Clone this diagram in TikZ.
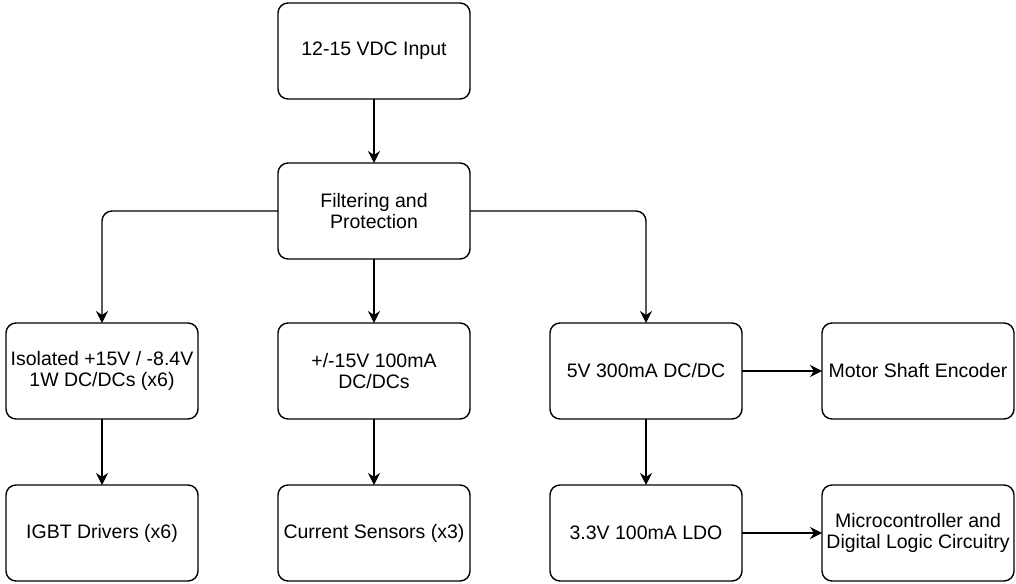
\documentclass[tikz,border=0pt]{standalone}
\usepackage{fontspec}
\setmainfont{Liberation Sans}
\usetikzlibrary{arrows.meta}
\begin{document}
\begin{tikzpicture}[x=1pt,y=-1pt,
  blk/.style={draw=black, line width=1.4pt, rounded corners=10pt, minimum width=192pt, minimum height=96pt, align=center, font=\fontsize{19.5}{21}\selectfont, inner sep=1pt, outer sep=0pt},
  conn/.style={draw=black, line width=1.4pt, -{Stealth[length=12pt,width=12pt,inset=4pt]}, rounded corners=10pt}]
\useasboundingbox (0,0) rectangle (1016,583);
\node[blk] (in) at (374,51) {12-15 VDC Input};
\node[blk] (filt) at (374,211) {Filtering and\\Protection};
\node[blk] (iso) at (102,371) {Isolated +15V / -8.4V\\1W DC/DCs (x6)};
\node[blk] (pm) at (374,371) {+/-15V 100mA\\DC/DCs};
\node[blk] (v5) at (646,371) {5V 300mA DC/DC};
\node[blk] (enc) at (918,371) {Motor Shaft Encoder};
\node[blk] (igbt) at (102,533) {IGBT Drivers (x6)};
\node[blk] (cs) at (374,533) {Current Sensors (x3)};
\node[blk] (ldo) at (646,533) {3.3V 100mA LDO};
\node[blk] (mcu) at (918,533) {Microcontroller and\\Digital Logic Circuitry};
\draw[conn] (in) -- (filt);
\draw[conn] (filt.west) -| (iso.north);
\draw[conn] (filt) -- (pm);
\draw[conn] (filt.east) -| (v5.north);
\draw[conn] (iso) -- (igbt);
\draw[conn] (pm) -- (cs);
\draw[conn] (v5) -- (ldo);
\draw[conn] (v5) -- (enc);
\draw[conn] (ldo) -- (mcu);
\end{tikzpicture}
\end{document}
